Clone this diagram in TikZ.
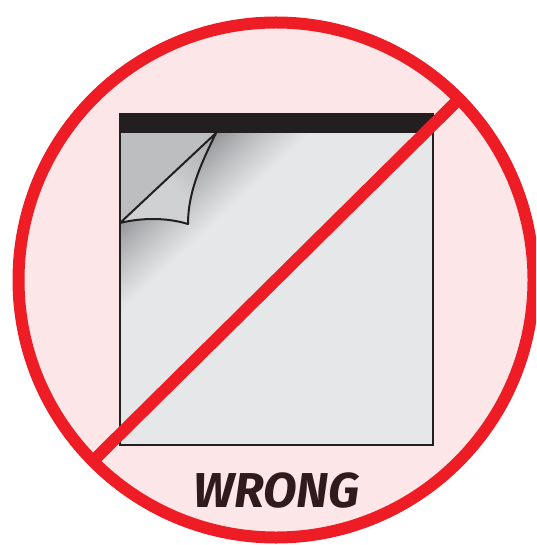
\documentclass[tikz,border=0pt]{standalone}
\usepackage{fontspec}
\usetikzlibrary{calc}
\setmainfont{Fira Sans}
\definecolor{ringred}{HTML}{EE1C25}
\definecolor{pinkbg}{HTML}{FDE6E7}
\definecolor{sheetgrey}{HTML}{E6E7E8}
\definecolor{backgrey}{HTML}{BCBEC0}
\definecolor{inkblack}{HTML}{231F20}
\definecolor{wordink}{HTML}{2F1A1E}
\definecolor{shadowgrey}{HTML}{8E9093}
\definecolor{flapdark}{HTML}{A6A8AB}
\definecolor{flaplight}{HTML}{D0D1D3}
\begin{document}
\begin{tikzpicture}[x=1pt,y=-1pt]
\useasboundingbox (0,0) rectangle (536,545);
\clip (0,0) rectangle (536,545);
% disc
\fill[pinkbg] (276,280) circle[radius=258];
% sheet
\fill[sheetgrey] (120,133) rectangle (433,445);
% shadow cast by the curled corner: bands parallel to the fold, painted far to near
\begin{scope}
\clip (120,133) rectangle (433,445);
\foreach \t in {66,64,...,0}{
  \pgfmathsetmacro{\mix}{100*(\t/66)^0.8}
  \fill[sheetgrey!\mix!shadowgrey]
    ($(120,223)+(-73,68.4)$) -- ($(216,133)+(73,-68.4)$)
    -- ($(216,133)+(73,-68.4)+(.684*\t,.73*\t)$) -- ($(120,223)+(-73,68.4)+(.684*\t,.73*\t)$) -- cycle;
}
\end{scope}
% exposed back corner
\fill[backgrey] (120,133) -- (216,133) -- (120,223) -- cycle;
% flap, shaded from the tip towards the lower edge
\begin{scope}
\clip (120,223) -- (216,133) .. controls (203,160) and (188,190) .. (188,224)
  .. controls (165,217) and (140,218) .. (120,223) -- cycle;
\fill[flaplight] (100,120) rectangle (230,240);
\foreach \t in {70,67,...,0}{
  \pgfmathsetmacro{\mix}{100*\t/70}
  \fill[flaplight!\mix!flapdark]
    ($(216,133)+(-90,-75)$) -- ($(216,133)+(90,75)$)
    -- ($(216,133)+(90,75)+(-.64*\t,.77*\t)$) -- ($(216,133)+(-90,-75)+(-.64*\t,.77*\t)$) -- cycle;
}
\end{scope}
\draw[inkblack,line width=2pt,line join=round]
  (120,223) -- (216,133) .. controls (203,160) and (188,190) .. (188,224)
  .. controls (165,217) and (140,218) .. (120,223) -- cycle;
% sheet outline and binding
\draw[inkblack,line width=2.8pt] (120,133) -- (120,445) -- (433,445) -- (433,133);
\fill[inkblack] (119,113) rectangle (434,133);
% slash and ring
\draw[ringred,line width=12pt] (96,458) -- (461,97);
\draw[ringred,line width=12pt] (276,280) circle[radius=257.5];
% label
\node[text=wordink,font={\fontsize{49}{49}\selectfont\bfseries\itshape},anchor=base] (label) at (276.5,507) {WRONG};
\end{tikzpicture}
\end{document}
